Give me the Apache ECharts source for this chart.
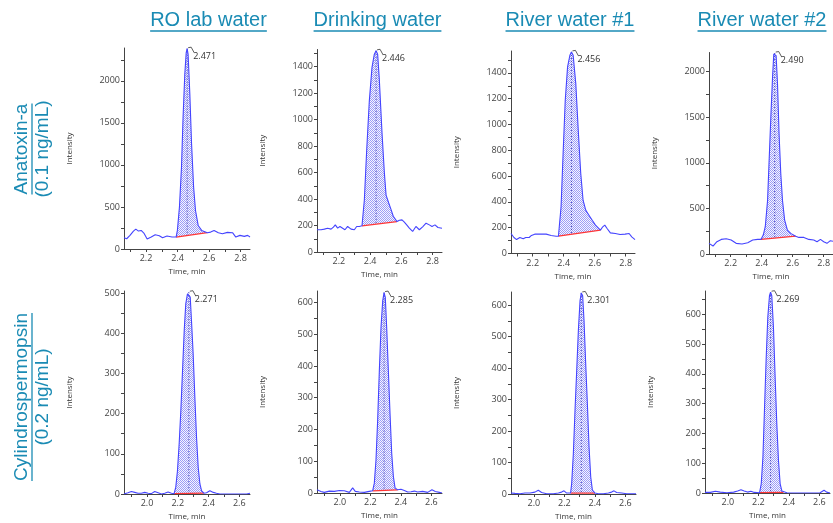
<!DOCTYPE html>
<html>
<head>
<meta charset="utf-8">
<script src="https://cdn.jsdelivr.net/npm/echarts@6/dist/echarts.min.js"></script>
<style>
  html, body { margin: 0; padding: 0; background: #fff; }
  #chart { width: 833px; height: 523px; }
</style>
</head>
<body>
<div id="chart"></div>
<script>
// headings
const columnTitles = ['RO lab water', 'Drinking water', 'River water #1', 'River water #2']
const rowTitles = [['Anatoxin-a', '(0.1 ng/mL)'], ['Cylindrospermopsin', '(0.2 ng/mL)']]

// retention time written at each apex
const rtLabels = ['2.471', '2.446', '2.456', '2.490', '2.271', '2.285', '2.301', '2.269']

// time axis ticks (min)
const topTimeTicks = [2.2, 2.4, 2.6, 2.8]
const bottomTimeTicks = [2.0, 2.2, 2.4, 2.6]
const topTimeRange = [2.06, 2.86]
const bottomTimeRange = [1.85, 2.67]

// intensity ticks and axis tops
const yTicks = [
  [0, 500, 1000, 1500, 2000],
  [0, 200, 400, 600, 800, 1000, 1200, 1400],
  [0, 200, 400, 600, 800, 1000, 1200, 1400],
  [0, 500, 1000, 1500, 2000],
  [0, 100, 200, 300, 400, 500],
  [0, 100, 200, 300, 400, 500, 600],
  [0, 100, 200, 300, 400, 500, 600],
  [0, 100, 200, 300, 400, 500, 600]
]
const yMax = [2390, 1530, 1570, 2210, 505, 636, 642, 678]

// traces [time, intensity]
const anaRo = [[2.06,134],[2.077,122],[2.098,162],[2.12,213],[2.135,237],[2.152,213],[2.169,221],[2.186,190],[2.207,118],[2.233,142],[2.258,170],[2.284,158],[2.305,134],[2.333,154],[2.365,142],[2.391,142],[2.399,221],[2.412,498],[2.425,972],[2.435,1564],[2.446,2078],[2.455,2335],[2.461,2382],[2.467,2315],[2.478,1841],[2.489,1248],[2.502,735],[2.514,458],[2.531,280],[2.553,221],[2.589,194],[2.61,201],[2.632,221],[2.659,194],[2.685,182],[2.717,198],[2.749,194],[2.77,142],[2.796,162],[2.824,150],[2.845,162],[2.86,142]]
const anaDw = [[2.06,168],[2.086,168],[2.107,173],[2.128,180],[2.15,173],[2.165,188],[2.177,205],[2.192,180],[2.207,193],[2.224,180],[2.239,168],[2.256,193],[2.278,173],[2.299,168],[2.314,193],[2.331,193],[2.348,198],[2.363,393],[2.378,769],[2.395,1144],[2.412,1395],[2.427,1495],[2.438,1520],[2.448,1495],[2.459,1300],[2.476,900],[2.491,600],[2.502,430],[2.519,370],[2.534,320],[2.548,270],[2.572,230],[2.587,240],[2.604,243],[2.619,225],[2.634,205],[2.651,180],[2.672,155],[2.693,193],[2.715,168],[2.736,190],[2.758,218],[2.779,205],[2.796,193],[2.815,205],[2.834,185],[2.86,180]]
const anaR1 = [[2.06,155],[2.079,124],[2.096,108],[2.117,124],[2.139,114],[2.155,124],[2.177,124],[2.192,140],[2.213,150],[2.245,150],[2.287,150],[2.319,140],[2.351,134],[2.366,134],[2.383,362],[2.397,800],[2.41,1188],[2.425,1447],[2.44,1537],[2.45,1563],[2.461,1537],[2.478,1317],[2.495,930],[2.51,620],[2.525,413],[2.542,336],[2.563,297],[2.584,258],[2.605,220],[2.637,181],[2.652,207],[2.665,220],[2.68,194],[2.701,160],[2.733,155],[2.764,147],[2.796,150],[2.822,155],[2.839,129],[2.86,108]]
const anaR2 = [[2.06,117],[2.086,87],[2.111,135],[2.139,160],[2.171,168],[2.203,153],[2.235,117],[2.273,109],[2.31,124],[2.342,153],[2.374,160],[2.395,160],[2.41,208],[2.423,299],[2.438,590],[2.448,1027],[2.459,1501],[2.47,1938],[2.478,2193],[2.484,2204],[2.493,2175],[2.502,1865],[2.512,1319],[2.523,882],[2.534,590],[2.548,372],[2.566,262],[2.587,226],[2.619,195],[2.64,182],[2.672,182],[2.704,160],[2.736,153],[2.757,135],[2.779,160],[2.8,135],[2.821,117],[2.843,146],[2.86,140]]
const cylRo = [[1.85,0],[1.876,3],[1.898,6],[1.92,4],[1.941,2],[1.963,2],[1.985,4],[2.007,2],[2.028,1],[2.05,6],[2.072,3],[2.094,0],[2.115,2],[2.137,5],[2.159,2],[2.176,1],[2.187,17],[2.198,58],[2.209,125],[2.22,208],[2.231,307],[2.242,407],[2.252,473],[2.263,498],[2.272,502],[2.281,490],[2.289,432],[2.3,349],[2.311,241],[2.322,141],[2.333,66],[2.344,25],[2.355,8],[2.37,2],[2.387,3],[2.409,8],[2.431,4],[2.452,2],[2.474,0],[2.518,0],[2.561,0],[2.605,0],[2.648,0],[2.67,2]]
const cylDw = [[1.85,10],[1.876,5],[1.898,2],[1.931,6],[1.964,5],[1.997,8],[2.029,7],[2.062,2],[2.084,16],[2.101,5],[2.128,3],[2.161,2],[2.193,5],[2.215,7],[2.226,31],[2.237,104],[2.248,230],[2.259,386],[2.27,522],[2.281,605],[2.29,631],[2.298,616],[2.307,522],[2.318,386],[2.329,250],[2.34,125],[2.351,52],[2.362,16],[2.379,10],[2.401,12],[2.423,8],[2.445,3],[2.467,4],[2.489,6],[2.51,3],[2.543,5],[2.576,2],[2.604,10],[2.626,5],[2.653,2],[2.67,0]]
const cylR1 = [[1.85,3],[1.876,2],[1.909,1],[1.942,3],[1.975,3],[2.007,6],[2.029,12],[2.051,5],[2.084,1],[2.128,1],[2.161,3],[2.182,6],[2.198,10],[2.215,3],[2.241,3],[2.248,33],[2.259,128],[2.27,266],[2.281,392],[2.292,520],[2.303,615],[2.311,639],[2.32,630],[2.329,551],[2.34,414],[2.351,287],[2.362,149],[2.373,54],[2.384,12],[2.401,3],[2.423,1],[2.456,1],[2.489,3],[2.51,6],[2.526,10],[2.543,5],[2.576,3],[2.609,1],[2.642,1],[2.67,1]]
const cylR2 = [[1.85,2],[1.885,2],[1.918,6],[1.95,3],[1.994,1],[2.038,3],[2.064,7],[2.086,11],[2.107,7],[2.129,3],[2.151,6],[2.173,2],[2.208,1],[2.219,31],[2.23,121],[2.24,277],[2.251,447],[2.262,590],[2.273,662],[2.28,674],[2.288,662],[2.299,556],[2.31,389],[2.321,232],[2.332,109],[2.343,31],[2.354,7],[2.365,2],[2.387,1],[2.43,0],[2.474,0],[2.517,0],[2.561,0],[2.605,1],[2.631,9],[2.648,3],[2.67,0]]

// integration baselines [start, end]
const anaRoBase = [[2.391,142],[2.589,194]]
const anaDwBase = [[2.348,198],[2.572,230]]
const anaR1Base = [[2.366,134],[2.637,181]]
const anaR2Base = [[2.395,160],[2.619,195]]
const cylRoBase = [[2.176,1],[2.37,2]]
const cylDwBase = [[2.215,7],[2.379,10]]
const cylR1Base = [[2.241,3],[2.401,3]]
const cylR2Base = [[2.208,1],[2.365,2]]

const traces = [anaRo, anaDw, anaR1, anaR2, cylRo, cylDw, cylR1, cylR2]
const baselines = [anaRoBase, anaDwBase, anaR1Base, anaR2Base, cylRoBase, cylDwBase, cylR1Base, cylR2Base]

// plot boxes [left, top, width, height]
const boxes = [
  [124, 48, 126, 201], [317, 49.5, 125, 202.5], [511, 51, 124, 202.5], [709, 52.5, 124, 201.5],
  [124, 291, 126, 203], [317, 291, 125, 202], [511, 292, 125, 202], [705, 291, 125, 202]
]
const colCenters = [208.5, 377.5, 570, 762]

const TEAL = '#1a8bb4'
const TRACE = '#4444ff'
const AXIS = '#444'
const SMALL_FONT = '"Open Sans", "Liberation Sans", sans-serif'
const BIG_FONT = '"Liberation Sans", Arial, sans-serif'

// dotted blue fill used for the integrated area
const hatchCanvas = document.createElement('canvas')
hatchCanvas.width = 2
hatchCanvas.height = 2
const hctx = hatchCanvas.getContext('2d')
hctx.fillStyle = '#f6f6ff'
hctx.fillRect(0, 0, 2, 2)
hctx.fillStyle = '#9d9df6'
hctx.fillRect(0, 0, 1, 1)
hctx.fillRect(1, 1, 1, 1)
const hatch = { image: hatchCanvas, repeat: 'repeat' }

const measure = document.createElement('canvas').getContext('2d')
function textWidth(text, font) {
  measure.font = font
  return measure.measureText(text).width
}

function withHalfSteps(ticks, lo, hi) {
  const step = ticks[1] - ticks[0]
  const out = []
  ticks.forEach(v => { out.push(v); out.push(+(v + step / 2).toFixed(4)); out.push(+(v - step / 2).toFixed(4)) })
  return Array.from(new Set(out)).filter(v => v >= lo - 1e-9 && v <= hi + 1e-9).sort((a, b) => a - b)
}

function peakRenderer(trace, base, label) {
  return function (params, api) {
    const t0 = base[0][0]
    const t1 = base[1][0]
    const pts = trace.filter(p => p[0] >= t0 && p[0] <= t1).map(p => api.coord(p))
    pts.push(api.coord(base[1]), api.coord(base[0]))
    const apex = trace.reduce((a, b) => (b[1] > a[1] ? b : a))
    const f = (apex[0] - t0) / (t1 - t0)
    const top = api.coord(apex)
    const bottom = api.coord([apex[0], base[0][1] + f * (base[1][1] - base[0][1])])
    return {
      type: 'group',
      children: [
        { type: 'polygon', shape: { points: pts }, style: { fill: hatch, stroke: null } },
        { type: 'line', shape: { x1: top[0], y1: top[1], x2: bottom[0], y2: bottom[1] },
          style: { stroke: '#3a3ab0', lineWidth: 1, lineDash: [1, 2] } },
        { type: 'polyline', shape: { points: [[top[0] + 1, top[1] - 1], [top[0] + 4, top[1] - 1.5], [top[0] + 7, top[1] + 4]] },
          style: { stroke: '#333', lineWidth: 0.8, fill: null } },
        { type: 'text', x: top[0] + 6, y: top[1] + 3,
          style: { text: label, font: '9px ' + SMALL_FONT, fill: '#333', align: 'left', verticalAlign: 'top' } }
      ]
    }
  }
}

const grid = []
const xAxis = []
const yAxis = []
const series = []

traces.forEach((trace, i) => {
  const bottomRow = i >= 4
  const range = bottomRow ? bottomTimeRange : topTimeRange
  const xt = bottomRow ? bottomTimeTicks : topTimeTicks
  const b = boxes[i]
  grid.push({ left: b[0], top: b[1], width: b[2], height: b[3], outerBoundsMode: 'none', containLabel: false })
  xAxis.push({
    type: 'value', gridIndex: i, min: range[0], max: range[1],
    name: 'Time, min', nameLocation: 'middle', nameGap: 19,
    nameTextStyle: { fontSize: 8, color: '#333', fontFamily: SMALL_FONT },
    axisLine: { show: true, onZero: false, lineStyle: { color: AXIS, width: 1 } },
    axisTick: { show: true, length: 3, customValues: withHalfSteps(xt, range[0], range[1]), lineStyle: { color: AXIS } },
    axisLabel: { customValues: xt, formatter: v => v.toFixed(1), fontSize: 9, color: '#444', margin: 5, fontFamily: SMALL_FONT },
    splitLine: { show: false }
  })
  yAxis.push({
    type: 'value', gridIndex: i, min: 0, max: yMax[i],
    name: 'Intensity', nameLocation: 'middle', nameGap: 50,
    nameTextStyle: { fontSize: 8, color: '#333', fontFamily: SMALL_FONT },
    axisLine: { show: true, onZero: false, lineStyle: { color: AXIS, width: 1 } },
    axisTick: { show: true, length: 3, customValues: withHalfSteps(yTicks[i], 0, yMax[i]), lineStyle: { color: AXIS } },
    axisLabel: { customValues: yTicks[i], formatter: v => String(v), fontSize: 9, color: '#444', margin: 4, fontFamily: SMALL_FONT },
    splitLine: { show: false }
  })
  const apex = trace.reduce((a, c) => (c[1] > a[1] ? c : a))
  series.push({
    type: 'custom', xAxisIndex: i, yAxisIndex: i, data: [apex], z: 1,
    renderItem: peakRenderer(trace, baselines[i], rtLabels[i]), clip: false
  })
  series.push({
    type: 'line', xAxisIndex: i, yAxisIndex: i, data: baselines[i], z: 2,
    showSymbol: false, lineStyle: { color: '#ff3535', width: 1.2 }, silent: true
  })
  series.push({
    type: 'line', xAxisIndex: i, yAxisIndex: i, data: trace, z: 3,
    showSymbol: false, lineStyle: { color: TRACE, width: 1.1 }, silent: true
  })
})

// column titles with underline
const graphic = []
const titleFont = '20px ' + BIG_FONT
columnTitles.forEach((t, c) => {
  const w = textWidth(t, titleFont)
  graphic.push({ type: 'text', x: colCenters[c], y: 20,
    style: { text: t, font: titleFont, fill: TEAL, align: 'center', verticalAlign: 'middle' } })
  graphic.push({ type: 'line', shape: { x1: colCenters[c] - w / 2, y1: 31, x2: colCenters[c] + w / 2, y2: 31 },
    style: { stroke: TEAL, lineWidth: 1.3 } })
})

// row titles, rotated, first line underlined
const rowFont = '19px ' + BIG_FONT
const rowCenters = [149, 397]
rowTitles.forEach((lines, r) => {
  const cy = rowCenters[r]
  graphic.push({ type: 'text', x: 22, y: cy, rotation: Math.PI / 2,
    style: { text: lines[0], font: rowFont, fill: TEAL, align: 'center', verticalAlign: 'middle' } })
  graphic.push({ type: 'text', x: 43, y: cy, rotation: Math.PI / 2,
    style: { text: lines[1], font: rowFont, fill: TEAL, align: 'center', verticalAlign: 'middle' } })
  const w = textWidth(lines[0], rowFont)
  graphic.push({ type: 'line', shape: { x1: 32, y1: cy - w / 2, x2: 32, y2: cy + w / 2 },
    style: { stroke: TEAL, lineWidth: 1.3 } })
})

const chart = echarts.init(document.getElementById('chart'), null, { renderer: 'canvas' })
chart.setOption({
  animation: false,
  backgroundColor: '#fff',
  grid: grid,
  xAxis: xAxis,
  yAxis: yAxis,
  series: series,
  graphic: graphic
})
</script>
</body>
</html>
